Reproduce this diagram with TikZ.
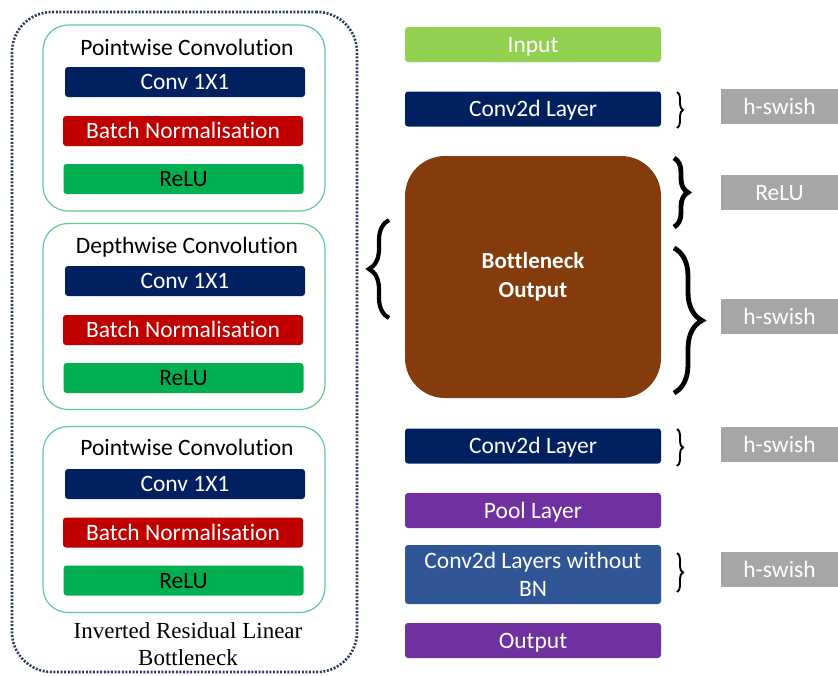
\documentclass[tikz,border=0pt]{standalone}
\usepackage{fontspec}
\setmainfont{Carlito}[Ligatures=NoCommon]
\newfontfamily\capserif{Liberation Serif}
\usetikzlibrary{decorations.pathreplacing}
\definecolor{navyc}{HTML}{002060}
\definecolor{redc}{HTML}{C00000}
\definecolor{greenc}{HTML}{00B050}
\definecolor{lgreen}{HTML}{92D050}
\definecolor{brownc}{HTML}{843C0C}
\definecolor{purplec}{HTML}{7030A0}
\definecolor{bluec}{HTML}{2F5597}
\definecolor{grayc}{HTML}{A6A6A6}
\definecolor{framec}{HTML}{5FCB8E}
\definecolor{dotc}{HTML}{2B3A67}
\tikzset{
  oneline/.style={text height=16pt, text depth=1pt},
  bar/.style={rounded corners=3pt, inner sep=0pt, minimum width=240pt, minimum height=30pt, text=white, font=\fontsize{23.5}{25}\selectfont, oneline},
  rbar/.style={rounded corners=3pt, inner sep=0pt, minimum width=256pt, minimum height=35pt, text=white, font=\fontsize{23.5}{25}\selectfont},
  gbox/.style={fill=grayc, inner sep=0pt, minimum width=117pt, minimum height=35pt, text=white, font=\fontsize{23.5}{25}\selectfont, oneline},
  grp/.style={draw=framec, line width=1.2pt, rounded corners=25pt, inner sep=0pt, minimum width=282pt, minimum height=186pt},
  ttl/.style={font=\fontsize{23.5}{25}\selectfont, inner sep=0pt},
  smallbrace/.style={decorate, decoration={brace, amplitude=6pt}, line width=1.9pt},
  bigbrace/.style={decorate, decoration={brace, amplitude=#1}, line width=4.8pt},
}
\begin{document}
\begin{tikzpicture}[x=1pt,y=-1pt]
\useasboundingbox (0,0) rectangle (838,675);
% outer dotted frame
\node[draw=dotc, line width=2.6pt, dash pattern=on 2pt off 1.6pt, rounded corners=40pt, minimum width=345pt, minimum height=660pt, inner sep=0pt] (outer) at (184.5,342) {};
% group 1
\node[grp] (g1) at (184,118) {};
\node[ttl] (t1) at (187,47) {Pointwise Convolution};
\node[bar, fill=navyc] (c1) at (185,82) {Conv 1X1};
\node[bar, fill=redc] (b1) at (183,131) {Batch Normalisation};
\node[bar, fill=greenc, text=black] (r1) at (183.5,179) {ReLU};
% group 2
\node[grp] (g2) at (184,316.5) {};
\node[ttl] (t2) at (187,247) {Depthwise Convolution};
\node[bar, fill=navyc] (c2) at (185,281) {Conv 1X1};
\node[bar, fill=redc] (b2) at (183,330) {Batch Normalisation};
\node[bar, fill=greenc, text=black] (r2) at (183.5,378) {ReLU};
% group 3
\node[grp] (g3) at (184,519.5) {};
\node[ttl] (t3) at (187,447) {Pointwise Convolution};
\node[bar, fill=navyc] (c3) at (185,484) {Conv 1X1};
\node[bar, fill=redc] (b3) at (183,532.5) {Batch Normalisation};
\node[bar, fill=greenc, text=black] (r3) at (183.5,580.5) {ReLU};
\node[font=\capserif\fontsize{23}{27}\selectfont, align=center, inner sep=0pt] (cap) at (188,644) {Inverted Residual Linear\\Bottleneck};
% right column
\node[rbar, oneline, fill=lgreen] (in) at (533,44.5) {Input};
\node[rbar, oneline, fill=navyc] (cv1) at (533,109) {Conv2d Layer};
\node[rounded corners=40pt, fill=brownc, minimum width=256pt, minimum height=242pt, inner sep=0pt, text=white, align=center, font=\bfseries\fontsize{23}{29}\selectfont] (bo) at (533,277) {Bottleneck\\Output};
\node[rbar, oneline, fill=navyc] (cv2) at (533,446) {Conv2d Layer};
\node[rbar, oneline, fill=purplec] (pool) at (533,510.5) {Pool Layer};
\node[rbar, fill=bluec, minimum height=59pt, align=center, font=\fontsize{23.5}{28}\selectfont] (cv3) at (533,574.5) {Conv2d Layers without\\BN};
\node[rbar, oneline, fill=purplec] (out) at (533,640.5) {Output};
% gray activation boxes
\node[gbox] (a1) at (779.5,106.5) {h-swish};
\node[gbox] (a2) at (779.5,192.5) {ReLU};
\node[gbox] (a3) at (779.5,316.5) {h-swish};
\node[gbox] (a4) at (779.5,444.5) {h-swish};
\node[gbox] (a5) at (779.5,569.5) {h-swish};
% braces
\coordinate (s1a) at (677,92); \coordinate (s1b) at (677,128);
\draw[smallbrace] (s1a) -- (s1b);
\coordinate (s2a) at (677,429); \coordinate (s2b) at (677,466);
\draw[smallbrace] (s2a) -- (s2b);
\coordinate (s3a) at (677,553); \coordinate (s3b) at (677,592);
\draw[smallbrace] (s3a) -- (s3b);
\coordinate (br1a) at (674,158); \coordinate (br1b) at (674,227);
\draw[bigbrace=14pt] (br1a) -- (br1b);
\coordinate (br2a) at (674,248); \coordinate (br2b) at (674,393);
\draw[bigbrace=28pt] (br2a) -- (br2b);
\coordinate (bl1a) at (389,318); \coordinate (bl1b) at (389,220);
\draw[decorate, decoration={brace, amplitude=20pt}, line width=4.2pt] (bl1a) -- (bl1b);
\end{tikzpicture}
\end{document}
